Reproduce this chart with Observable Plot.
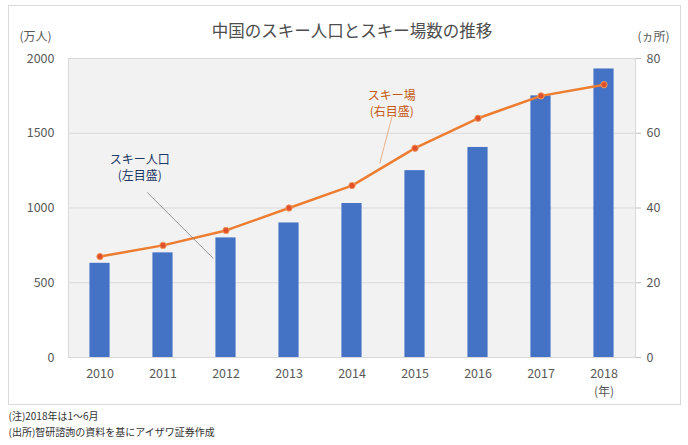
<!DOCTYPE html>
<html>
<head>
<meta charset="utf-8">
<script src="https://cdn.jsdelivr.net/npm/d3@7"></script>
<script src="https://cdn.jsdelivr.net/npm/@observablehq/plot@0.6"></script>
<style>
  html, body { margin: 0; padding: 0; background: #ffffff; }
  #wrap { position: relative; width: 688px; height: 445px; }
  #border { position: absolute; left: 8px; top: 5px; width: 671px; height: 398px; border: 1px solid #d9d9d9; pointer-events: none; }
</style>
</head>
<body>
<div id="wrap"><div id="border"></div></div>
<script>
const years = [2010, 2011, 2012, 2013, 2014, 2015, 2016, 2017, 2018];
const skiers = [630, 700, 800, 900, 1030, 1250, 1405, 1750, 1930];   // 万人 (left axis)
const resorts = [27, 30, 34, 40, 46, 56, 64, 70, 73];                 // ヵ所 (right axis)
const leftTicks = [0, 500, 1000, 1500, 2000];
const rightTicks = [0, 20, 40, 60, 80];
const gridTicks = [500, 1000, 1500, 2000];
const ratio = 2000 / 80;

const title = "中国のスキー人口とスキー場数の推移";
const leftUnit = "(万人)";
const rightUnit = "(ヵ所)";
const xUnit = "(年)";
const note1 = "(注)2018年は1～6月";
const note2 = "(出所)智研諮詢の資料を基にアイザワ証券作成";
const blueLabel = "スキー人口\n(左目盛)";
const orangeLabel = "スキー場\n(右目盛)";

const data = years.map((y, i) => ({year: y, skiers: skiers[i], resorts: resorts[i]}));

const font = "'Noto Sans CJK JP', 'Noto Sans', sans-serif";

const chart = Plot.plot({
  width: 688,
  height: 445,
  marginLeft: 68,
  marginRight: 53,
  marginTop: 58,
  marginBottom: 88,
  style: {fontFamily: font, fontSize: "12px", color: "#595959", background: "transparent"},
  x: {type: "linear", domain: [2009.5, 2018.5]},
  y: {domain: [0, 2000]},
  marks: [
    Plot.frame({fill: "#f2f2f2", stroke: "#d9d9d9"}),
    Plot.ruleY(gridTicks, {stroke: "#d9d9d9"}),
    Plot.rectY(data, {x1: d => d.year - 0.16, x2: d => d.year + 0.16, y: "skiers", fill: "#4472c4"}),
    Plot.line(data, {x: "year", y: d => d.resorts * ratio, stroke: "#ed7d31", strokeWidth: 2.5}),
    Plot.dot(data, {x: "year", y: d => d.resorts * ratio, r: 3.2, fill: "#e0502a", stroke: "#f29a60", strokeWidth: 1}),
    Plot.axisY({ticks: leftTicks, tickFormat: d => String(d), tickSize: 0, tickPadding: 14, label: null, fill: "#595959", fontSize: 12.5}),
    Plot.axisY({anchor: "right", ticks: rightTicks.map(v => v * ratio), tickFormat: d => String(d / ratio),
      tickSize: 5, tickPadding: 6, label: null, stroke: "#bfbfbf", fill: "#595959", fontSize: 12.5}),
    Plot.axisX({ticks: years, tickFormat: d => String(d), tickSize: 0, tickPadding: 12, label: null, fill: "#595959", fontSize: 12.5}),
    // annotations
    Plot.text([blueLabel], {x: 2010.63, y: 1274, fill: "#203864", fontSize: 12, lineHeight: 1.35}),
    Plot.link([0], {x1: 2010.75, y1: 1104, x2: 2011.80, y2: 662, stroke: "#7f7f7f", strokeWidth: 0.8}),
    Plot.text([orangeLabel], {x: 2014.63, y: 1702, fill: "#c65911", fontSize: 12, lineHeight: 1.35}),
    Plot.link([0], {x1: 2014.64, y1: 1619, x2: 2014.44, y2: 1298, stroke: "#e8a070", strokeWidth: 0.8}),
    // titles and units
    Plot.text([title], {frameAnchor: "top", lineAnchor: "middle", dy: -27, fontSize: 16.5, fill: "#4d4d4d"}),
    Plot.text([leftUnit], {frameAnchor: "top-left", lineAnchor: "middle", dx: -33, dy: -21, textAnchor: "middle", fontSize: 12, fill: "#595959"}),
    Plot.text([rightUnit], {frameAnchor: "top-right", lineAnchor: "middle", dx: 18, dy: -21, textAnchor: "middle", fontSize: 12, fill: "#595959"}),
    Plot.text([xUnit], {x: 2018, frameAnchor: "bottom", lineAnchor: "middle", dy: 35, fontSize: 12, fill: "#595959"}),
    Plot.text([note1], {frameAnchor: "bottom-left", lineAnchor: "middle", dx: -60, dy: 59, fontSize: 10, fill: "#333333", textAnchor: "start"}),
    Plot.text([note2], {frameAnchor: "bottom-left", lineAnchor: "middle", dx: -60, dy: 75, fontSize: 10, fill: "#333333", textAnchor: "start"}),
  ]
});
document.getElementById("wrap").prepend(chart);
</script>
</body>
</html>
